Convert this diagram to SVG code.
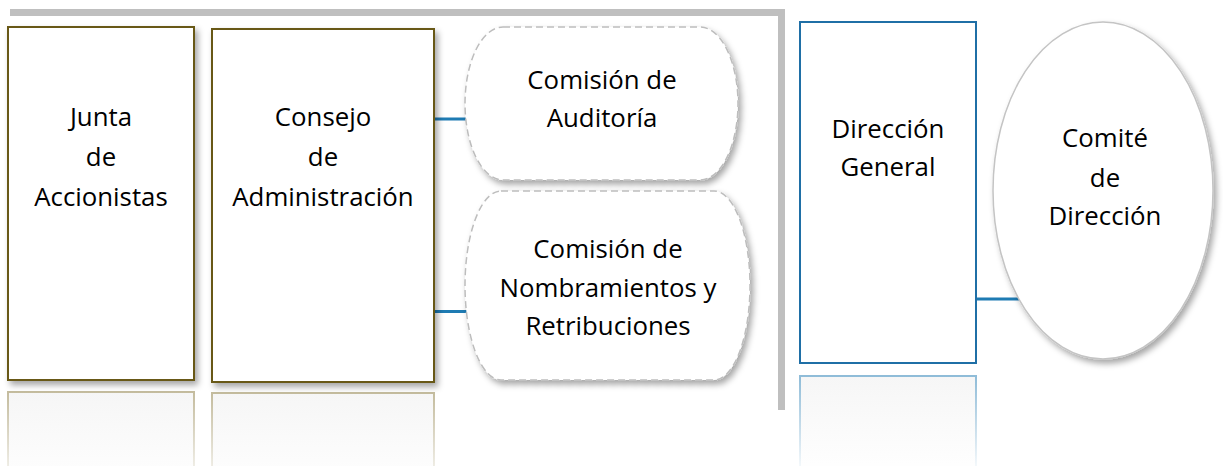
<svg xmlns="http://www.w3.org/2000/svg" width="1223" height="466" viewBox="0 0 1223 466">
<style>
.t{font-family:"Open Sans","Noto Sans","Liberation Sans",sans-serif;font-size:25.8px;fill:#000;text-anchor:middle}
.olive{fill:#fff;stroke:#675818;stroke-width:2}
.blue{fill:#fff;stroke:#1F6FA6;stroke-width:2}
.dash{fill:#fff;stroke:#BDBDBD;stroke-width:1.5;stroke-dasharray:7 4}
.conn{stroke:#1E7BB3;stroke-width:3;fill:none}
</style>
<defs>
<filter id="sh" x="-10%" y="-10%" width="130%" height="130%">
<feDropShadow dx="3" dy="4" stdDeviation="3" flood-color="#000" flood-opacity="0.35"/>
</filter>
<linearGradient id="refO" x1="0" y1="0" x2="0" y2="1">
<stop offset="0" stop-color="#C4BC9E"/>
<stop offset="1" stop-color="#C4BC9E" stop-opacity="0"/>
</linearGradient>
<linearGradient id="refB" x1="0" y1="0" x2="0" y2="1">
<stop offset="0" stop-color="#8FBCD8"/>
<stop offset="1" stop-color="#8FBCD8" stop-opacity="0"/>
</linearGradient>
<linearGradient id="refF" x1="0" y1="0" x2="0" y2="1">
<stop offset="0" stop-color="#F6F6F6"/>
<stop offset="1" stop-color="#FFFFFF"/>
</linearGradient>
</defs>
<rect width="1223" height="466" fill="#fff"/>
<g id="frame">
<path d="M10 12.5 H781.5 V410" fill="none" stroke="#BFBFBF" stroke-width="7"/>
</g>
<g id="connectors">
<line class="conn" x1="434" y1="119" x2="467" y2="119"/>
<line class="conn" x1="434" y1="311.5" x2="467" y2="311.5"/>
<line class="conn" x1="976" y1="299" x2="1022" y2="299"/>
</g>
<g id="junta">
<rect x="8" y="392" width="186" height="100" fill="url(#refF)" stroke="url(#refO)" stroke-width="2"/>
<rect class="olive" x="8" y="27" width="186" height="353" filter="url(#sh)"/>
<text class="t" x="101" y="126">Junta</text>
<text class="t" x="101" y="166">de</text>
<text class="t" x="101" y="206">Accionistas</text>
</g>
<g id="consejo">
<rect x="212" y="393" width="222" height="100" fill="url(#refF)" stroke="url(#refO)" stroke-width="2"/>
<rect class="olive" x="212" y="29" width="222" height="353" filter="url(#sh)"/>
<text class="t" x="323" y="126">Consejo</text>
<text class="t" x="323" y="166">de</text>
<text class="t" x="323" y="206">Administración</text>
</g>
<g id="auditoria">
<rect class="dash" x="465" y="27" width="273" height="153" rx="38" ry="76.5" filter="url(#sh)"/>
<text class="t" x="602" y="89">Comisión de</text>
<text class="t" x="602" y="127">Auditoría</text>
</g>
<g id="nombramientos">
<rect class="dash" x="465" y="191" width="285" height="189" rx="36" ry="94.5" filter="url(#sh)"/>
<text class="t" x="608" y="258">Comisión de</text>
<text class="t" x="608" y="297">Nombramientos y</text>
<text class="t" x="608" y="335">Retribuciones</text>
</g>
<g id="direccion">
<rect x="800" y="376" width="176" height="100" fill="url(#refF)" stroke="url(#refB)" stroke-width="2"/>
<rect class="blue" x="800" y="22" width="176" height="341"/>
<text class="t" x="888" y="138">Dirección</text>
<text class="t" x="888" y="176">General</text>
</g>
<g id="comite">
<ellipse cx="1103" cy="190.5" rx="110" ry="168.5" fill="#fff" stroke="#C4C4C4" stroke-width="1.5" filter="url(#sh)"/>
<text class="t" x="1105" y="147">Comité</text>
<text class="t" x="1105" y="187">de</text>
<text class="t" x="1105" y="225">Dirección</text>
</g>
</svg>
